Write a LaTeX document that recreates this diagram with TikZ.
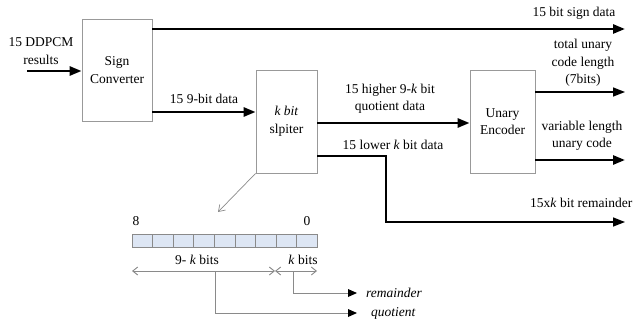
\documentclass[tikz,border=0pt]{standalone}
\usepackage{fontspec}
\setmainfont{Liberation Serif}
\usetikzlibrary{arrows.meta,calc}
\definecolor{cellblue}{HTML}{DDE6F4}
\definecolor{boxgray}{HTML}{999999}
\definecolor{linegray}{HTML}{8A8A8A}
\begin{document}
\begin{tikzpicture}[x=1pt,y=-1pt,
  every node/.style={font=\fontsize{13.5}{17.5}\selectfont, inner sep=0pt, align=center},
  blockbox/.style={draw=boxgray, line width=0.8pt, fill=white},
  thickarr/.style={line width=2.6pt, -{Triangle[length=12pt,width=9pt]}},
  medarr/.style={line width=1.6pt, -{Triangle[length=12pt,width=9pt]}},
  grayarr/.style={draw=linegray, line width=0.9pt},
  cell/.style={draw=linegray, line width=0.6pt, fill=cellblue, minimum width=20.56pt, minimum height=13pt}]
\useasboundingbox (0,0) rectangle (637,329);

% blocks
\node[blockbox, minimum width=70pt, minimum height=102pt] (sc) at (117,70) {Sign\\Converter};
\node[blockbox, minimum width=61pt, minimum height=103pt] (sp) at (286.5,121.5) {\textit{k bit}\\slpiter};
\node[blockbox, minimum width=65pt, minimum height=103pt] (ue) at (502.5,121.5) {Unary\\Encoder};

% free ends
\coordinate (in) at (27,71);
\coordinate (signend) at (625,29);
\coordinate (lenend) at (625,92);
\coordinate (varend) at (625,160);
\coordinate (remend) at (625,222);
\coordinate (bend) at (386,156);

% arrows
\draw[thickarr] (in) -- (in -| sc.west);
\draw[thickarr] (signend -| sc.east) -- (signend);
\draw[thickarr] (sc.east |- 0,112) -- (sp.west |- 0,112);
\draw[thickarr] (sp.east |- 0,123) -- (ue.west |- 0,123);
\draw[medarr] (sp.east |- bend) -- (bend) -- (bend |- remend) -- (remend);
\draw[medarr] (lenend -| ue.east) -- (lenend);
\draw[thickarr] (varend -| ue.east) -- (varend);

% labels
\node (l1) at (41,51) {15 DDPCM\\results};
\node (l2) at (574,13) {15 bit sign data};
\node (l3) at (204,99) {15 9-bit data};
\node (l4) at (390,99) {15 higher 9-\textit{k} bit\\quotient data};
\node (l5) at (393,145) {15 lower \textit{k} bit data};
\node (l6) at (583,63) {total unary\\code length\\(7bits)};
\node (l7) at (582,136) {variable length\\unary code};
\node[anchor=west] (l8) at (530,203) {15x\textit{k} bit remainder};

% register
\foreach \i in {0,...,8} {
  \node[cell] (c\i) at ({132+20.56*(\i+0.5)},240.5) {};
}
\node (n8) at (136,221) {8};
\node (n0) at (307,221) {0};
\node (t1) at (197,260) {9- \textit{k} bits};
\node (t2) at (303,260) {\textit{k} bits};

\coordinate (dl) at (132,271);
\coordinate (dm) at (275,271);
\coordinate (dr) at (317,271);
\draw[grayarr, {Straight Barb[length=5pt,width=8pt]}-{Straight Barb[length=5pt,width=8pt]}] (dl) -- (dm);
\draw[grayarr, {Straight Barb[length=5pt,width=8pt]}-{Straight Barb[length=5pt,width=8pt]}] (dm) -- (dr);

% diagonal pointer
\coordinate (regtop) at (218,212);
\draw[grayarr, line width=0.7pt, -{Straight Barb[length=6pt,width=8pt]}] (sp.south west) -- (regtop);

% outputs
\node[anchor=west, font=\fontsize{13.5}{17}\selectfont\itshape] (rem) at (366,293) {remainder};
\node[anchor=west, font=\fontsize{13.5}{17}\selectfont\itshape] (quo) at (371,313) {quotient};
\coordinate (qs) at (215,271);
\coordinate (rs) at (293,271);
\coordinate (qe) at (357,313);
\coordinate (re) at (357,293);
\draw[grayarr] (qs) -- (qs |- qe) -- ($(qe)+(-8,0)$);
\draw[grayarr] (rs) -- (rs |- re) -- ($(re)+(-8,0)$);
\fill ($(qe)+(-9,-4)$) -- (qe) -- ($(qe)+(-9,4)$) -- cycle;
\fill ($(re)+(-9,-4)$) -- (re) -- ($(re)+(-9,4)$) -- cycle;
\end{tikzpicture}
\end{document}
